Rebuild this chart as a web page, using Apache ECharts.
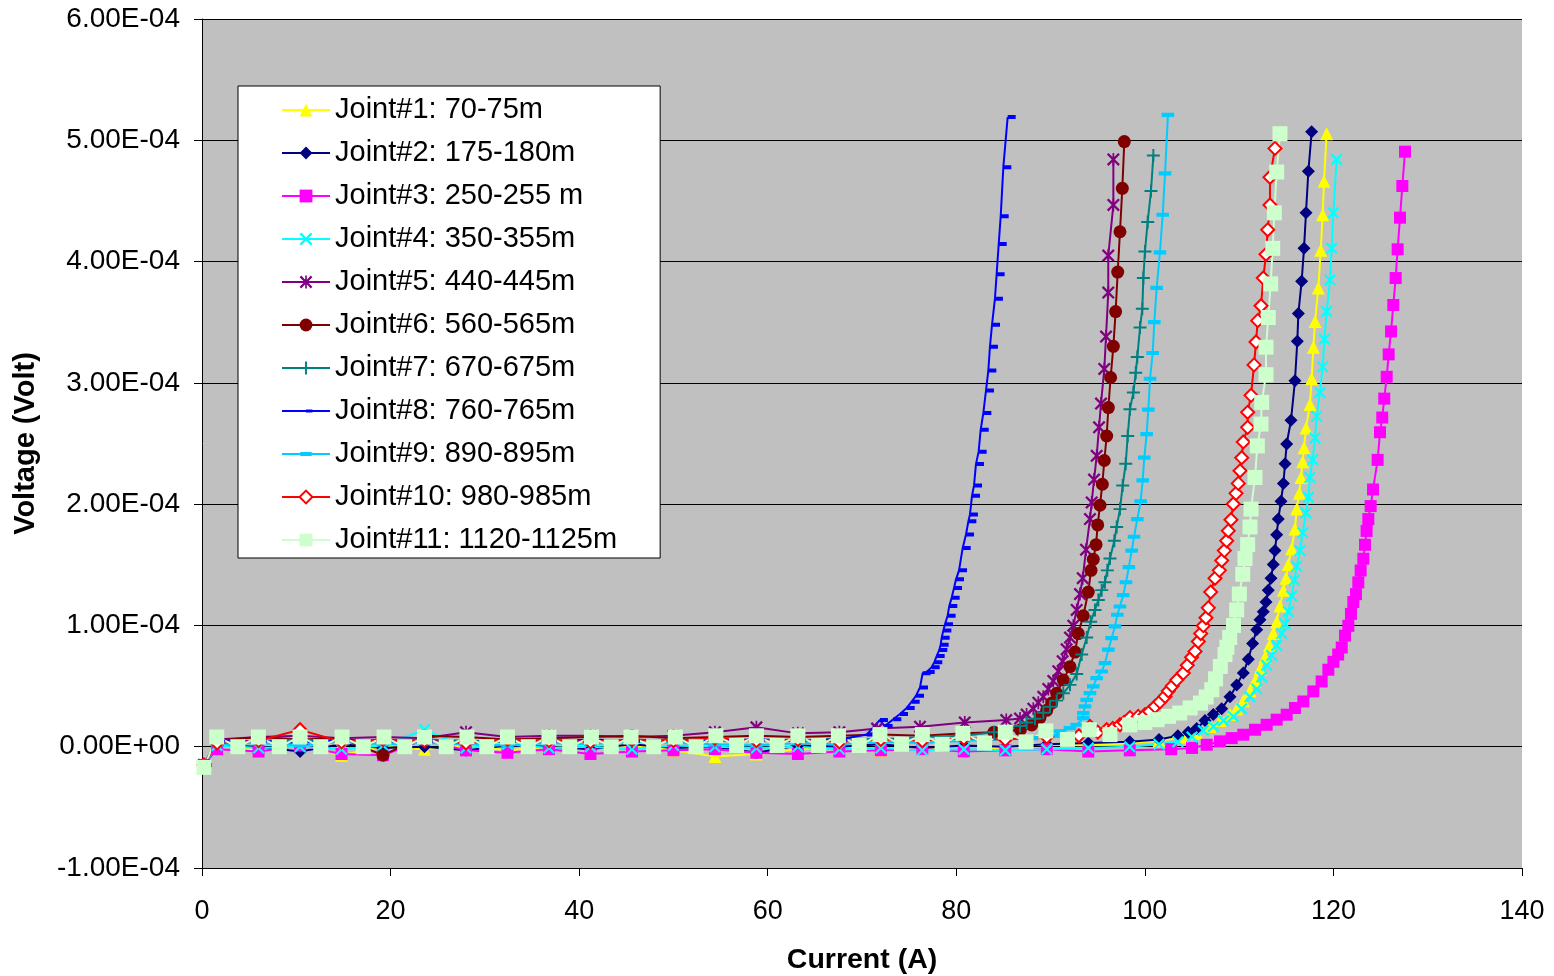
<!DOCTYPE html>
<html lang="en">
<head>
<meta charset="UTF-8">
<script src="https://cdn.jsdelivr.net/npm/echarts@6/dist/echarts.min.js"></script>
<title>Joint voltage vs current</title>
<style>
    html, body { margin: 0; padding: 0; background: #fff; }
    #main { width: 1554px; height: 976px; }
</style>
</head>
<body>
<div id="main"></div>
<script>
// series names (legend)
var jointNames = ['Joint#1: 70-75m', 'Joint#2: 175-180m', 'Joint#3: 250-255 m', 'Joint#4: 350-355m',
    'Joint#5: 440-445m', 'Joint#6: 560-565m', 'Joint#7: 670-675m', 'Joint#8: 760-765m',
    'Joint#9: 890-895m', 'Joint#10: 980-985m', 'Joint#11: 1120-1125m'];

// current in A, voltage in microvolt
var joint1Current = [0.2, 1.6, 6.0, 10.4, 14.8, 19.2, 23.6, 28.0, 32.4, 36.8, 41.2, 45.6, 50.0, 54.4, 58.8, 63.2, 67.6, 72.0, 76.4, 80.8,
    85.2, 89.6, 94.0, 98.4, 101.5, 104.0, 105.5, 106.91, 107.97, 109.03, 109.74, 110.44, 111.15, 111.68, 112.21, 112.74, 113.2, 113.62, 113.98, 114.33,
    114.69, 114.97, 115.21, 115.57, 115.92, 116.1, 116.38, 116.56, 116.74, 116.88, 117.09, 117.51, 117.69, 117.87, 118.05, 118.4, 118.65, 118.86, 119.0, 119.28];
var joint1Voltage = [-15, 2, -3, 1, -7, 0, -2, 1, -3, 0, -2, 1, -3, -8, -6, -2, 0, -3, -1, -4,
    0, 2, 1, 3, 5, 8, 11, 16.7, 21.6, 26.5, 31.4, 37.9, 46.1, 54.2, 64, 73.8, 83.5, 93.3, 103, 116,
    129.1, 138.9, 150.3, 163.3, 179.6, 195.9, 208.9, 222, 235, 246.4, 262.7, 282.2, 303.4, 329.4, 350.6, 378.3, 409.3, 438.6, 466.3, 505.4];

var joint2Current = [0.2, 1.6, 6.0, 10.4, 14.8, 19.2, 23.6, 28.0, 32.4, 36.8, 41.2, 45.6, 50.0, 54.4, 58.8, 63.2, 67.6, 72.0, 76.4, 80.8,
    85.2, 89.6, 94.0, 98.4, 101.5, 103.5, 104.6, 105.5, 106.38, 107.26, 108.15, 109.03, 109.74, 110.44, 110.97, 111.43, 111.86, 112.21, 112.56, 112.85,
    113.09, 113.38, 113.62, 113.8, 113.98, 114.15, 114.44, 114.69, 114.87, 115.04, 115.5, 115.92, 116.17, 116.28, 116.63, 116.88, 117.09, 117.34, 117.69];
var joint2Voltage = [-15, 1, 0, -4, 2, -1, 0, -3, 1, 0, -2, 2, -1, 0, -5, 1, 0, 2, -1, 1,
    0, 2, 3, 4, 6, 9, 12, 15.1, 21.6, 26.5, 31.4, 41.1, 50.9, 60.7, 72.1, 85.1, 96.5, 104.7, 111.2, 119.3,
    129.1, 138.9, 150.3, 161.7, 174.7, 187.7, 202.4, 217.1, 233.3, 249.6, 269.2, 301.7, 334.4, 357.1, 383.8, 410.9, 440.2, 474.4, 507];

var joint3Current = [0.2, 1.6, 6.0, 10.4, 14.8, 19.2, 23.6, 28.0, 32.4, 36.8, 41.2, 45.6, 50.0, 54.4, 58.8, 63.2, 67.6, 72.0, 76.4, 80.8,
    85.2, 89.6, 94.0, 98.4, 102.8, 105.0, 106.56, 107.97, 109.21, 110.44, 111.68, 112.92, 113.98, 115.04, 115.92, 116.81, 117.87, 118.75, 119.46, 120.0,
    120.5, 120.88, 121.23, 121.58, 121.86, 122.11, 122.39, 122.64, 122.89, 123.17, 123.35, 123.52, 123.7, 123.95, 124.2, 124.69, 124.94, 125.18, 125.39, 125.65,
    125.86, 126.11, 126.35, 126.6, 126.81, 127.06, 127.31, 127.59];
var joint3Voltage = [-15, -2, -4, 1, -6, -7, 6, -3, -5, -2, -6, -4, -3, -2, -5, -6, -4, -3, -2, -4,
    -3, -2, -4, -3, -2, -1, 1.6, 4.4, 7.1, 9.9, 14, 18.1, 22.3, 26.4, 31.9, 37.3, 45.6, 53.8, 63.5, 70,
    76, 81.8, 91.6, 99.7, 109.5, 119.3, 125.8, 135.5, 145.3, 155, 166.5, 177.9, 187.7, 198.4, 212.1, 236.5, 259.3, 271.4, 287, 305,
    323.5, 342.4, 364.2, 386.4, 410.1, 436.2, 462.3, 490.6];

var joint4Current = [0.2, 1.6, 6.0, 10.4, 14.8, 19.2, 23.6, 28.0, 32.4, 36.8, 41.2, 45.6, 50.0, 54.4, 58.8, 63.2, 67.6, 72.0, 76.4, 80.8,
    85.2, 89.6, 94.0, 98.4, 101.5, 103.5, 105.0, 106.2, 107.26, 108.33, 109.38, 110.27, 111.15, 111.86, 112.39, 112.92, 113.45, 113.98, 114.51, 114.87,
    115.21, 115.57, 115.85, 116.1, 116.45, 116.74, 117.09, 117.34, 117.51, 117.8, 118.05, 118.22, 118.57, 118.86, 119.04, 119.28, 119.64, 119.81, 119.99, 120.34];
var joint4Voltage = [-15, 1, -1, 0, -2, 1, 14, -1, 2, -1, 0, -2, 1, 0, -1, 0, -2, -1, -3, -2,
    -3, -2, -1, 0, 2, 4, 8, 13.4, 16.7, 21.6, 24.9, 31.4, 41.1, 47.6, 57.4, 67.2, 75.3, 83.5, 93.3, 101.4,
    111.2, 124.2, 137.2, 148.7, 161.7, 176.4, 192.6, 205.6, 222, 236.6, 254.5, 272.5, 292, 313.2, 335.9, 358.8, 384.8, 410.9, 440.2, 484.2];

var joint5Current = [0.2, 1.6, 6.0, 10.4, 14.8, 19.2, 23.6, 28.0, 32.4, 36.8, 41.2, 45.6, 50.0, 54.4, 58.8, 63.2, 67.6, 71.6, 76.15, 80.9,
    85.3, 86.76, 87.46, 88.17, 88.7, 89.23, 89.76, 90.29, 90.82, 91.28, 91.7, 92.06, 92.41, 92.77, 93.12, 93.41, 93.76, 94.18, 94.36, 94.61,
    94.89, 95.14, 95.35, 95.7, 95.88, 96.12, 96.12, 96.66, 96.66];
var joint5Voltage = [-15, 6, 8, 9, 7, 8, 7, 12, 8, 9, 9, 8, 9, 12, 16, 11, 12, 15, 16.5, 20,
    22, 23.2, 26.5, 31.4, 36.3, 41.1, 47.6, 54.2, 62.3, 70.5, 80.3, 90, 99.8, 112.8, 125.9, 138.9, 162.4, 187.7, 201.4, 220.3,
    239.8, 263.3, 282.9, 311.5, 338.2, 374.4, 405, 446.7, 484.2];

var joint6Current = [0.2, 1.6, 6.0, 10.4, 14.8, 19.2, 23.6, 28.0, 32.4, 36.8, 41.2, 45.6, 50.0, 54.4, 58.8, 63.2, 67.6, 72.0, 76.4, 80.8,
    84.0, 86.8, 88.0, 88.88, 89.59, 90.12, 90.65, 91.35, 92.06, 92.59, 92.94, 93.47, 94.0, 94.29, 94.53, 94.82, 95.0, 95.24, 95.49, 95.7,
    95.95, 96.13, 96.37, 96.66, 96.9, 97.12, 97.36, 97.61, 97.82];
var joint6Voltage = [-15, 5, 8, 6, 7, -7, 9, 8, 6, 7, 8, 9, 7, 8, 9, 8, 9, 10, 9, 11,
    12, 14, 18, 24, 30, 36, 44, 55, 66, 78, 93.3, 108, 127.5, 145.4, 154.5, 166.6, 182.9, 199.1, 216.4, 236,
    256.2, 279.6, 304.4, 330.1, 358.8, 391.3, 424.6, 460.4, 498.9];

var joint7Current = [0.2, 1.6, 6.0, 10.4, 14.8, 19.2, 23.6, 28.0, 32.4, 36.8, 41.2, 45.6, 50.0, 54.4, 58.8, 63.2, 67.6, 72.0, 76.4, 80.8,
    84.0, 86.76, 87.47, 88.35, 89.23, 89.94, 90.65, 91.35, 92.06, 92.77, 93.3, 93.83, 94.25, 94.71, 95.07, 95.42, 95.77, 96.02, 96.3, 96.76,
    97.01, 97.36, 97.65, 97.97, 98.18, 98.42, 98.78, 99.03, 99.2, 99.49, 99.73, 99.84, 100.01, 100.3, 100.65, 100.9];
var joint7Voltage = [-15, 4, 5, 6, 4, 5, 6, 5, 4, 6, 5, 4, 6, 5, 6, 5, 7, 6, 8, 9,
    12, 17, 20, 23, 28, 33, 38, 44, 51, 60, 76, 90, 103, 112.8, 121, 129.1, 135.6, 145.4, 155.2, 169.8,
    181.2, 195.9, 215.4, 233.3, 256.2, 278.3, 292, 308.3, 321.3, 345.7, 361.1, 386.5, 408.3, 432.7, 458.2, 487.4];

var joint8Current = [0.2, 1.6, 6.0, 10.4, 14.8, 19.2, 23.6, 28.0, 32.4, 36.8, 41.2, 45.6, 50.0, 54.4, 58.8, 63.2, 67.6, 70.5, 71.9, 72.4,
    73.32, 74.03, 74.74, 75.27, 75.73, 76.15, 76.43, 76.86, 77.39, 77.67, 77.92, 78.2, 78.34, 78.45, 78.63, 78.8, 79.08, 79.26, 79.51, 79.76,
    79.97, 80.29, 80.68, 81.03, 81.28, 81.45, 81.67, 81.88, 82.09, 82.37, 82.59, 82.87, 83.15, 83.4, 83.57, 83.79, 84.1, 84.28, 84.5, 84.71,
    84.99, 85.45];
var joint8Voltage = [-15, 4, 5, 3, 6, 4, 5, 3, 5, 4, 6, 5, 4, 5, 6, 5, 6, 10, 22, 17,
    22.6, 27, 32, 37.1, 42.1, 48.8, 60.6, 61.6, 65.6, 69.7, 74.7, 79.8, 84.1, 89.8, 95.9, 101, 108, 116.1, 122.8, 130.9,
    138, 145.4, 163.9, 175, 185.8, 191.5, 207, 215.4, 233.2, 243.3, 261.4, 275.2, 293.7, 310.2, 329.8, 347.9, 369.4, 389.6, 414.5, 437.4,
    477.8, 519.1];

var joint9Current = [0.2, 1.6, 6.0, 10.4, 14.8, 19.2, 23.6, 28.0, 32.4, 36.8, 41.2, 45.6, 50.0, 54.4, 58.8, 63.2, 67.6, 72.0, 76.4, 80.8,
    85.2, 88.0, 90.3, 91.0, 92.06, 92.77, 93.47, 93.47, 93.65, 93.83, 94.18, 94.53, 94.89, 95.42, 95.77, 96.13, 96.48, 96.83, 97.08, 97.36,
    97.7, 98.0, 98.3, 98.6, 98.85, 99.2, 99.55, 99.77, 99.94, 100.19, 100.37, 100.55, 100.83, 101.0, 101.25, 101.6, 101.89, 102.14, 102.45];
var joint9Voltage = [-15, 2, 3, 1, 4, 2, 3, 2, 1, 3, 2, 4, 3, 2, 1, 3, 2, 4, 3, 5,
    6, 7, 9, 12.6, 15.4, 18.1, 23.6, 27.7, 33.2, 38.7, 44.2, 49.7, 56.6, 62, 69, 80, 89.6, 99.2, 108.8, 115.6,
    125, 135.6, 148, 161.7, 173.1, 187.7, 202.4, 219.6, 238.3, 257.8, 278, 303.4, 324.6, 350, 378.3, 407.6, 438.6, 472.8, 521];

var joint10Current = [0.2, 1.6, 6.0, 10.4, 14.8, 19.2, 23.6, 28.0, 32.4, 36.8, 41.2, 45.6, 50.0, 54.4, 58.8, 63.2, 67.6, 72.0, 76.4, 80.8,
    85.2, 89.6, 93.0, 94.18, 95.0, 95.95, 96.6, 97.36, 97.8, 98.42, 99.3, 100.01, 100.5, 101.08, 101.6, 102.14, 102.49, 102.9, 103.38, 104.08,
    104.5, 104.96, 105.32, 105.67, 105.92, 106.2, 106.48, 106.73, 106.98, 107.44, 107.9, 108.15, 108.43, 108.68, 108.85, 109.13, 109.38, 109.67, 109.91, 110.09,
    110.27, 110.44, 110.9, 110.9, 111.26, 111.58, 111.79, 111.97, 112.32, 112.56, 112.85, 113.03, 113.27, 113.27, 113.8];
var joint10Voltage = [-15, 3, 5, 14, 4, 6, 5, 3, 6, 5, 4, 6, 5, 7, 5, 6, 4, 6, 5, 7,
    6, 8, 9, 16.7, 12, 14, 15, 18.1, 20, 24, 25, 26.4, 29, 33.2, 37, 41.5, 46, 50, 55, 60.7,
    67.2, 73.8, 78.6, 86.8, 93.3, 99.8, 106.3, 114.5, 127.5, 138.9, 145.4, 153.5, 161.7, 169.8, 178, 187.1, 200.1, 208.9, 217.1, 227.5,
    238.3, 251.3, 263.3, 275.7, 289.7, 314.8, 333.7, 351.3, 363.6, 386.5, 406, 426.2, 446.7, 469.5, 493.3];

var joint11Current = [0.2, 1.56, 3.8, 5.98, 8.2, 10.4, 12.6, 14.85, 17.1, 19.3, 21.5, 23.6, 25.9, 28.1, 30.2, 32.4, 34.6, 36.8, 39.0, 41.3,
    43.4, 45.5, 47.9, 50.2, 52.4, 54.5, 56.7, 58.8, 61.0, 63.2, 65.4, 67.5, 69.7, 71.9, 74.2, 76.4, 78.5, 80.7, 83.0, 85.2,
    87.4, 89.5, 91.8, 94.1, 96.3, 98.4, 100.0, 101.3, 102.5, 103.7, 104.8, 105.9, 106.5, 107.1, 107.5, 108.0, 108.5, 108.7, 109.0, 109.4,
    109.74, 110.02, 110.38, 110.62, 110.9, 111.15, 111.26, 111.68, 111.93, 112.32, 112.39, 112.85, 112.85, 113.09, 113.34, 113.56, 113.73, 113.98, 114.33];
var joint11Voltage = [-17, 8, 0, 8, 0, 8, 0, 8, 0, 8, 0, 8, 0, 8, 0, 8, 0, 8, 0, 8,
    0, 8, 0, 8, 0, 9, 1, 9, 1, 9, 1, 9, 1, 10, 2, 10, 2, 11, 3, 12,
    4, 13, 6, 14, 10, 18, 20, 22.3, 25, 27.8, 32, 36, 41, 47, 56, 66.2, 76, 82, 90, 100,
    112.8, 125.9, 142.2, 155.2, 166.6, 181.2, 195.9, 222, 248, 266, 283.9, 306.7, 329.4, 353.9, 381.6, 410.9, 440.2, 473.8, 505.4];

var currents = [joint1Current, joint2Current, joint3Current, joint4Current, joint5Current, joint6Current,
    joint7Current, joint8Current, joint9Current, joint10Current, joint11Current];
var voltages = [joint1Voltage, joint2Voltage, joint3Voltage, joint4Voltage, joint5Voltage, joint6Voltage,
    joint7Voltage, joint8Voltage, joint9Voltage, joint10Voltage, joint11Voltage];

var colors = ['#FFFF00', '#000080', '#FF00FF', '#00FFFF', '#800080', '#800000',
    '#008080', '#0000FF', '#00CCFF', '#FF0000', '#CCFFCC'];

// excel-like marker shapes
var crossPath = 'path://M2.5,0L10,7.5L17.5,0L20,2.5L12.5,10L20,17.5L17.5,20L10,12.5L2.5,20L0,17.5L7.5,10L0,2.5Z';
var starPath = crossPath + ' M8.7,0H11.3V20H8.7Z';
var plusPath = 'path://M8.5,0H11.5V20H8.5Z M0,8.5H20V11.5H0Z';
// tiny corner dots keep the box square so the dash keeps its place
var shortDashPath = 'path://M0,0h0.2v0.2h-0.2Z M19.8,19.8h0.2v0.2h-0.2Z M10,7.5H20V12.5H10Z';
var dashPath = 'path://M0,0h0.2v0.2h-0.2Z M19.8,19.8h0.2v0.2h-0.2Z M1,7H19V13H1Z';

var symbols = ['triangle', 'diamond', 'rect', crossPath, starPath, 'circle', plusPath, shortDashPath, dashPath, 'emptyDiamond', 'rect'];
var symbolSizes = [13, 13, 12, 12, 13, 13, 13, 16, 14, 13, 15];

function sci(v) {
    if (Math.abs(v) < 1e-12) return '0.00E+00';
    var parts = v.toExponential(2).split('e');
    var e = parseInt(parts[1], 10);
    return parts[0] + 'E' + (e < 0 ? '-' : '+') + (Math.abs(e) < 10 ? '0' : '') + Math.abs(e);
}

var series = jointNames.map(function (name, i) {
    var pts = [];
    for (var k = 0; k < currents[i].length; k++) {
        pts.push([currents[i][k], voltages[i][k] * 1e-6]);
    }
    return {
        name: name,
        type: 'line',
        data: pts,
        symbol: symbols[i],
        symbolSize: symbolSizes[i],
        lineStyle: { color: colors[i], width: 2 },
        itemStyle: { color: colors[i] },
        emphasis: { disabled: true }
    };
});

var chart = echarts.init(document.getElementById('main'));
chart.setOption({
    animation: false,
    color: colors,
    textStyle: { fontFamily: 'Liberation Sans, Arial, sans-serif' },
    grid: {
        left: 202, right: 32, top: 19, bottom: 108,
        outerBoundsMode: 'none',
        show: true, backgroundColor: '#C0C0C0', borderWidth: 0
    },
    legend: {
        orient: 'vertical',
        left: 238,
        top: 86,
        padding: [9, 43, 3, 43],
        backgroundColor: '#fff',
        borderColor: '#000',
        borderWidth: 1,
        itemWidth: 48,
        itemHeight: 16,
        itemGap: 13,
        selectedMode: false,
        textStyle: { fontSize: 29, lineHeight: 30, color: '#000' },
        data: jointNames
    },
    xAxis: {
        type: 'value',
        min: 0, max: 140, interval: 20,
        name: 'Current (A)',
        nameLocation: 'middle',
        nameGap: 78,
        nameTextStyle: { fontSize: 28.5, fontWeight: 'bold', color: '#000' },
        axisLine: { onZero: false, lineStyle: { color: '#000', width: 1 } },
        axisTick: { show: true, length: 8, lineStyle: { color: '#000' } },
        axisLabel: { fontSize: 27, color: '#000', margin: 30 },
        splitLine: { show: false }
    },
    yAxis: {
        type: 'value',
        min: -0.0001, max: 0.0006, interval: 0.0001,
        name: 'Voltage (Volt)',
        nameLocation: 'middle',
        nameGap: 162,
        nameRotate: 90,
        nameTextStyle: { fontSize: 29, fontWeight: 'bold', color: '#000' },
        axisLine: { show: true, onZero: false, lineStyle: { color: '#000', width: 1 } },
        axisTick: { show: true, length: 8, lineStyle: { color: '#000' } },
        axisLabel: { fontSize: 28, color: '#000', margin: 22, formatter: sci },
        splitLine: { show: true, lineStyle: { color: '#000', width: 1 } }
    },
    series: series
});
</script>
</body>
</html>
